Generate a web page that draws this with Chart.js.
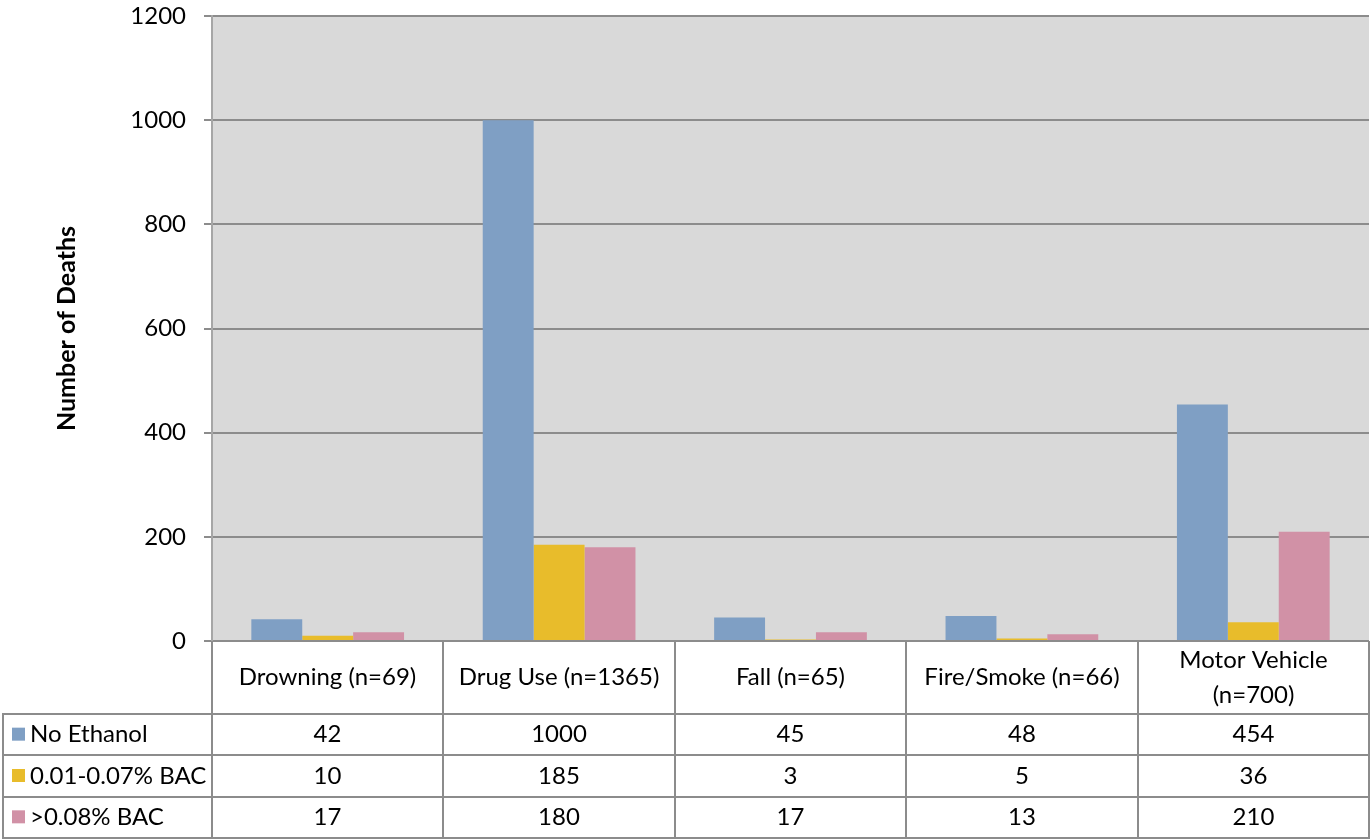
<!DOCTYPE html>
<html><head><meta charset="utf-8">
<script src="https://cdn.jsdelivr.net/npm/chart.js@4"></script>
<style>html,body{margin:0;padding:0;background:#fff}#wrap{width:1370px;height:839px}</style>
</head><body><div id="wrap"><canvas id="c" width="1370" height="839"></canvas></div>
<script>
const categories = [['Drowning (n=69)'], ['Drug Use (n=1365)'], ['Fall (n=65)'], ['Fire/Smoke (n=66)'], ['Motor Vehicle', '(n=700)']];
const seriesNames = ['No Ethanol', '0.01-0.07% BAC', '>0.08% BAC'];
const noEthanol = [42, 1000, 45, 48, 454];
const bacLow = [10, 185, 3, 5, 36];
const bacHigh = [17, 180, 17, 13, 210];
const yTickValues = [0, 200, 400, 600, 800, 1000, 1200];
const seriesColors = ['#7f9fc4', '#e8bc2b', '#d191a6'];
const seriesValues = [noEthanol, bacLow, bacHigh];

const FONT = 'Lato';
const FS = 24;
const LINE = '#8c8c8c';

const tablePlugin = {
  id: 'dataTable',
  beforeDraw(chart) {
    const { ctx, chartArea: a } = chart;
    ctx.save();
    ctx.fillStyle = '#d9d9d9';
    ctx.fillRect(a.left, a.top, a.right - a.left, a.bottom - a.top);
    ctx.restore();
  },
  afterDraw(chart) {
    const { ctx, chartArea: a } = chart;
    const xs = chart.scales.x;
    const n = categories.length;
    const edges = [];
    for (let i = 0; i <= n; i++) {
      if (i === 0) edges.push(a.left);
      else if (i === n) edges.push(a.right);
      else edges.push(Math.round((xs.getPixelForValue(i - 1) + xs.getPixelForValue(i)) / 2));
    }
    const top = a.bottom;
    const headerH = 73;
    const bottom = chart.height - 1;
    const rowTop = top + headerH;
    const rowH = (bottom - rowTop) / seriesNames.length;
    const leftX = 3;

    ctx.save();
    ctx.strokeStyle = LINE;
    ctx.lineWidth = 2;
    ctx.beginPath();
    edges.forEach(x => { ctx.moveTo(x, top); ctx.lineTo(x, bottom); });
    ctx.moveTo(leftX, rowTop); ctx.lineTo(leftX, bottom);
    for (let r = 0; r <= seriesNames.length; r++) {
      const y = Math.round(rowTop + r * rowH);
      ctx.moveTo(leftX - 1, y); ctx.lineTo(a.right + 1, y);
    }
    ctx.stroke();

    ctx.fillStyle = '#000';
    ctx.font = FS + 'px ' + FONT;
    ctx.textAlign = 'center';
    ctx.textBaseline = 'middle';
    categories.forEach((lines, i) => {
      const cx = (edges[i] + edges[i + 1]) / 2;
      const cy = top + headerH / 2;
      const lh = 35;
      lines.forEach((t, k) => {
        ctx.fillText(t, cx, cy + (k - (lines.length - 1) / 2) * lh);
      });
    });
    seriesNames.forEach((name, r) => {
      const cy = rowTop + r * rowH + rowH / 2;
      ctx.fillStyle = seriesColors[r];
      ctx.fillRect(12, cy - 7, 13, 13);
      ctx.fillStyle = '#000';
      ctx.textAlign = 'left';
      ctx.fillText(name, 30, cy);
      ctx.textAlign = 'center';
      seriesValues[r].forEach((v, i) => {
        const cx = (edges[i] + edges[i + 1]) / 2;
        ctx.fillText(String(v), cx, cy);
      });
    });
    ctx.restore();
  }
};

new Chart(document.getElementById('c'), {
  type: 'bar',
  data: {
    labels: categories,
    datasets: seriesNames.map((name, i) => ({
      label: name,
      data: seriesValues[i],
      backgroundColor: seriesColors[i],
      borderWidth: 0,
      barPercentage: 1,
      categoryPercentage: 0.66
    }))
  },
  options: {
    responsive: false,
    animation: false,
    layout: { padding: { top: 16, right: 1, bottom: 198, left: 0 } },
    plugins: { legend: { display: false }, tooltip: { enabled: false } },
    scales: {
      x: { display: false },
      y: {
        min: 0, max: 1200,
        afterBuildTicks(s) { s.ticks = yTickValues.map(v => ({ value: v })); },
        afterFit(s) { s.width = 212; s.paddingTop = 0; s.paddingBottom = 0; },
        ticks: { color: '#000', padding: 18, font: { family: FONT, size: FS }, callback: v => String(v) },
        grid: { color: LINE, lineWidth: 2, tickLength: 8, drawTicks: true },
        border: { display: true, color: '#a6a6a6', width: 2 },
        title: {
          display: true, text: 'Number of Deaths', color: '#000',
          font: { family: FONT, size: 25, weight: 'bold' },
          padding: { top: 52, bottom: 0 }
        }
      }
    }
  },
  plugins: [tablePlugin]
});
</script></body></html>
